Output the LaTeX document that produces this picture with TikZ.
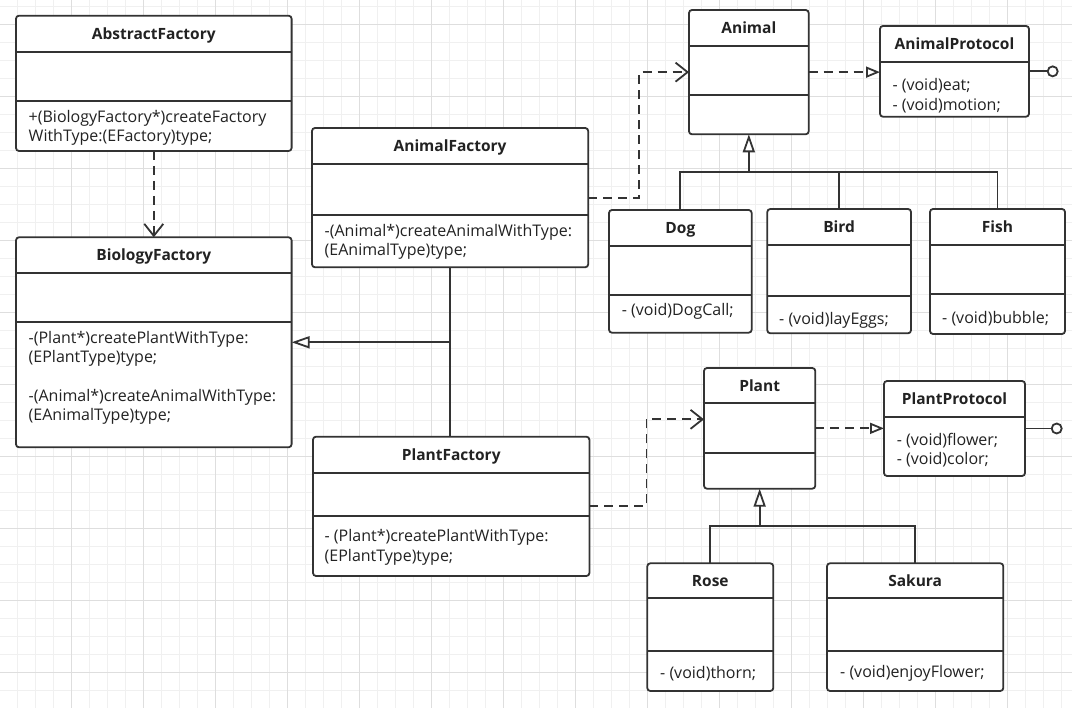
\documentclass[tikz,border=0pt]{standalone}
\usepackage{fontspec}
\setmainfont{Open Sans}
\usetikzlibrary{arrows.meta,positioning}

\definecolor{linec}{HTML}{333333}
\definecolor{textc}{HTML}{222222}
\definecolor{majorc}{HTML}{DEDEDE}
\definecolor{minorc}{HTML}{F0F0F0}

\tikzset{
  umlbox/.style={draw=linec, fill=white, line width=1.8pt, rounded corners=3pt, outer sep=0pt, inner sep=0pt},
  umlline/.style={draw=linec, line width=1.8pt},
  umltitle/.style={font=\fontsize{15.5}{19}\selectfont\bfseries, text=textc, text height=11pt, text depth=0pt, inner sep=0pt},
  member/.style={font=\fontsize{16}{19.5}\selectfont, text=textc, anchor=west, align=left, inner sep=0pt},
  conn/.style={draw=linec, line width=1.8pt},
  dep/.style={conn, dash pattern=on 9pt off 6pt, -{Straight Barb[length=12pt,width=19pt]}},
  real/.style={conn, dash pattern=on 9pt off 6pt, -{Triangle[fill=white,length=14pt,width=11pt]}},
  inh/.style={conn, -{Triangle[fill=white,length=18pt,width=12pt]}},
  lolly/.style={circle, draw=linec, fill=white, line width=1.8pt, minimum size=10pt, inner sep=0pt, outer sep=0pt}
}

% name, left, top, right, bottom, header line, divider line (may be empty), title
\newcommand{\umlclass}[8]{%
  \node (#1) [umlbox, minimum width=#4pt-#2pt, minimum height=#5pt-#3pt, anchor=north west] at (#2,#3) {};
  \draw[umlline] (#2,#6) -- (#4,#6);
  \ifx\relax#7\relax\else\draw[umlline] (#2,#7) -- (#4,#7);\fi
  \node[umltitle] (#1-t) at ({(#2+#4)/2},{(#3+#6)/2}) {#8};
}

\begin{document}
\begin{tikzpicture}[x=1pt,y=-1pt]
\useasboundingbox (0,0) rectangle (1072,708);
\fill[white] (0,0) rectangle (1072,708);

% grid
\foreach \x in {17.5,35.5,...,1072} \draw[minorc] (\x,0) -- (\x,708);
\foreach \y in {6.3,24.3,...,708} \draw[minorc] (0,\y) -- (1072,\y);
\foreach \x in {71.5,143.5,...,1072} \draw[majorc] (\x,0) -- (\x,708);
\foreach \y in {24.3,96.3,...,708} \draw[majorc] (0,\y) -- (1072,\y);

% factories
\umlclass{abstract}{16}{15.7}{291.6}{151}{52}{100.7}{AbstractFactory}
\umlclass{biology}{16}{237.3}{291.6}{447.3}{272.7}{322}{BiologyFactory}
\umlclass{animalF}{312}{128}{588.2}{267.3}{163.7}{215.3}{AnimalFactory}
\umlclass{plantF}{313}{436.7}{589.4}{576}{472.7}{516}{PlantFactory}

\node[member] (abstract-m) at (28.5,128) {+(BiologyFactory*)createFactory\\WithType:(EFactory)type;};
\node[member] (biology-m) at (28.5,378) {-(Plant*)createPlantWithType:\\(EPlantType)type;\\[19pt]-(Animal*)createAnimalWithType:\\(EAnimalType)type;};
\node[member] (animalF-m) at (324.5,242) {-(Animal*)createAnimalWithType:\\(EAnimalType)type;};
\node[member] (plantF-m) at (324.5,547.3) {- (Plant*)createPlantWithType:\\(EPlantType)type;};

% animals
\umlclass{animal}{689}{10}{808.7}{134.3}{45.7}{95}{Animal}
\umlclass{animalP}{880}{26}{1029}{116.7}{61.7}{}{AnimalProtocol}
\umlclass{dog}{609}{210}{751.7}{332.7}{246}{295}{Dog}
\umlclass{bird}{767.3}{209}{911}{333.3}{245}{296}{Bird}
\umlclass{fish}{930}{209}{1065}{334}{245}{294}{Fish}

\node[member] (animalP-m) at (892.3,95.7) {- (void)eat;\\- (void)motion;};
\node[member] (dog-m) at (621.7,311.7) {- (void)DogCall;};
\node[member] (bird-m) at (779,320.7) {- (void)layEggs;};
\node[member] (fish-m) at (942,318.3) {- (void)bubble;};

% plants
\umlclass{plant}{704}{368}{815.3}{488.7}{403.3}{453.3}{Plant}
\umlclass{plantP}{884}{381}{1025}{476}{416.7}{}{PlantProtocol}
\umlclass{rose}{647.3}{563.3}{773.3}{691}{598.3}{650.7}{Rose}
\umlclass{sakura}{827}{563.3}{1003.3}{691}{598.3}{650.7}{Sakura}

\node[member] (plantP-m) at (896.7,450) {- (void)flower;\\- (void)color;};
\node[member] (rose-m) at (660,673.3) {- (void)thorn;};
\node[member] (sakura-m) at (840,673.3) {- (void)enjoyFlower;};

% connectors
\draw[dep] (abstract) -- (biology);
\draw[conn] (animalF.south) -- (animalF.south |- plantF.north);
\draw[inh] (animalF.south |- biology.east) -- (biology.east);

\draw[dep] (animalF.east) -- ++(51,0) |- (animal.west);
\draw[dep] (plantF.east) -- ++(57,0) |- ([yshift=9pt]plant.west);

\draw[real] (animal.east) -- (animal.east -| animalP.west);
\draw[real] (plant.east) -- (plant.east -| plantP.west);
\draw[conn] (animalP.east) -- ++(18.7,0) node[lolly, anchor=west] (animalP-i) {};
\draw[conn] (plantP.east) -- ++(26.7,0) node[lolly, anchor=west] (plantP-i) {};

\coordinate (animalJ) at ([yshift=-37.4pt]animal.south);
\draw[inh] (animalJ) -- (animal.south);
\draw[conn] (dog.north) |- (animalJ) -| (fish.north);
\draw[conn] (bird.north) -- (bird.north |- animalJ);

\coordinate (plantJ) at ([yshift=-37pt]plant.south);
\draw[inh] (plantJ) -- (plant.south);
\draw[conn] (rose.north) |- (plantJ) -| (sakura.north);
\end{tikzpicture}
\end{document}
